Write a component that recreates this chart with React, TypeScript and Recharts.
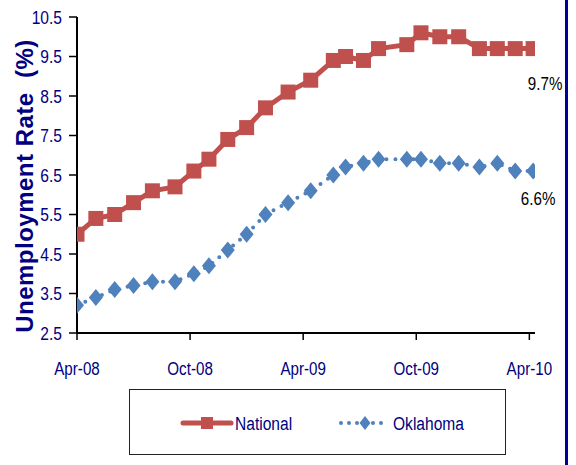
import React from "react";
import { LineChart, Line, XAxis, YAxis } from "recharts";

// month offset from Apr-08 (as placed in the source chart)
const monthPos = [0, 1, 2, 3, 4, 5.2, 6.2, 7, 8, 9, 10, 11.2, 12.4, 13.6, 14.25, 15.2, 16, 17.5, 18.25, 19.25, 20.25, 21.35, 22.3, 23.25, 24.2];
const national = [5.0, 5.4, 5.5, 5.8, 6.1, 6.2, 6.6, 6.9, 7.4, 7.7, 8.2, 8.6, 8.9, 9.4, 9.5, 9.4, 9.7, 9.8, 10.1, 10.0, 10.0, 9.7, 9.7, 9.7, 9.7];
const oklahoma = [3.2, 3.4, 3.6, 3.7, 3.8, 3.8, 4.0, 4.2, 4.6, 5.0, 5.5, 5.8, 6.1, 6.5, 6.7, 6.8, 6.9, 6.9, 6.9, 6.8, 6.8, 6.7, 6.8, 6.6, 6.6];

const xTicks = [0, 6, 12, 18, 24];
const xTickLabels = ["Apr-08", "Oct-08", "Apr-09", "Oct-09", "Apr-10"];
const yTicks = [2.5, 3.5, 4.5, 5.5, 6.5, 7.5, 8.5, 9.5, 10.5];

const RED = "#C0504D";
const BLUE = "#4F81BD";
const NAVY = "#000080";
const FONT = "'Liberation Sans', Arial, sans-serif";
const SQUEEZE = 0.82; // no narrow font installed, so squeeze Liberation Sans

const data = monthPos.map((m, i) => ({
  m,
  national: national[i],
  oklahoma: oklahoma[i],
}));
const last = data.length - 1;

const Narrow = ({ x, y, size, fill, anchor, dy, children }: any) => (
  <text
    x={0}
    y={0}
    dy={dy}
    transform={`translate(${x},${y}) scale(${SQUEEZE},1)`}
    textAnchor={anchor}
    fontFamily={FONT}
    fontSize={size}
    fill={fill}
  >
    {children}
  </text>
);

const XTick = (props: any) => {
  const { x, y, payload } = props;
  return (
    <Narrow x={x} y={y} size={18.5} fill={NAVY} anchor="middle" dy="0.71em">
      {xTickLabels[xTicks.indexOf(payload.value)] ?? ""}
    </Narrow>
  );
};

const YTick = (props: any) => {
  const { x, y, payload } = props;
  return (
    <Narrow x={x} y={y} size={19} fill={NAVY} anchor="end" dy="0.355em">
      {Number(payload.value).toFixed(1)}
    </Narrow>
  );
};

const Square = (props: any) => {
  const { cx, cy, index } = props;
  return <rect key={`sq-${index}`} x={cx - 7.5} y={cy - 7.5} width={15} height={15} fill={RED} />;
};

const Diamond = (props: any) => {
  const { cx, cy, index } = props;
  return (
    <path
      key={`dm-${index}`}
      d={`M${cx},${cy - 8.5} L${cx + 7},${cy} L${cx},${cy + 8.5} L${cx - 7},${cy} Z`}
      fill={BLUE}
    />
  );
};

const endLabel = (dx: number, dy: number) => (props: any) => {
  const { x, y, index, value } = props;
  if (index !== last) return <g key={`l-${index}`} />;
  return (
    <g key={`l-${index}`}>
      <Narrow x={x + dx} y={y + dy} size={18.5} fill="#000" anchor="middle">
        {`${value.toFixed(1)}%`}
      </Narrow>
    </g>
  );
};

const YTitle = () => (
  <text
    x={0}
    y={0}
    transform="translate(33,186) rotate(-90)"
    textAnchor="middle"
    fontFamily={FONT}
    fontWeight="bold"
    fontSize={24}
    letterSpacing={0.5}
    fill={NAVY}
    style={{ whiteSpace: "pre" }}
  >
    Unemployment Rate  (%)
  </text>
);

export default function App() {
  return (
    <div style={{ position: "absolute", left: 0, top: 0, width: 576, height: 465, background: "#fff" }}>
      <LineChart
        width={576}
        height={465}
        data={data}
        margin={{ top: 17, right: 41, left: 0, bottom: 92 }}
      >
        <XAxis
          dataKey="m"
          type="number"
          domain={[0, 24.3]}
          ticks={xTicks}
          height={40}
          tickSize={7}
          tickMargin={22}
          axisLine={{ stroke: "#000", strokeWidth: 2 }}
          tickLine={{ stroke: "#000", strokeWidth: 1.5 }}
          tick={<XTick />}
          allowDataOverflow
        />
        <YAxis
          domain={[2.5, 10.5]}
          ticks={yTicks}
          width={77}
          tickSize={8}
          tickMargin={7}
          axisLine={{ stroke: "#000", strokeWidth: 2 }}
          tickLine={{ stroke: "#000", strokeWidth: 1.5 }}
          tick={<YTick />}
          label={{ content: () => <YTitle /> }}
        />
        <Line
          dataKey="oklahoma"
          stroke={BLUE}
          strokeWidth={4}
          strokeDasharray="0 9"
          strokeLinecap="round"
          dot={Diamond}
          activeDot={false}
          label={endLabel(5, 34)}
          isAnimationActive={false}
        />
        <Line
          dataKey="national"
          stroke={RED}
          strokeWidth={5}
          dot={Square}
          activeDot={false}
          label={endLabel(12, 41)}
          isAnimationActive={false}
        />
      </LineChart>

      <div
        style={{
          position: "absolute",
          left: 129,
          top: 389,
          width: 377,
          height: 66,
          boxSizing: "border-box",
          border: "1.5px solid #222",
        }}
      >
        <svg width={377} height={66} style={{ position: "absolute", left: -1.5, top: -1.5 }}>
          <line x1={54} y1={34} x2={102} y2={34} stroke={RED} strokeWidth={5} strokeLinecap="round" />
          <rect x={72} y={28} width={12} height={12} fill={RED} />
          <Narrow x={106} y={40.5} size={19} fill={NAVY} anchor="start">
            National
          </Narrow>
          <line x1={212} y1={34} x2={256} y2={34} stroke={BLUE} strokeWidth={4} strokeDasharray="0 8" strokeLinecap="round" />
          <path d="M236,27 L241.5,34 L236,41 L230.5,34 Z" fill={BLUE} />
          <Narrow x={264} y={40.5} size={19} fill={NAVY} anchor="start">
            Oklahoma
          </Narrow>
        </svg>
      </div>

      <div style={{ position: "absolute", left: 565, top: 0, width: 2.5, height: 465, background: "#000099" }} />
    </div>
  );
}
